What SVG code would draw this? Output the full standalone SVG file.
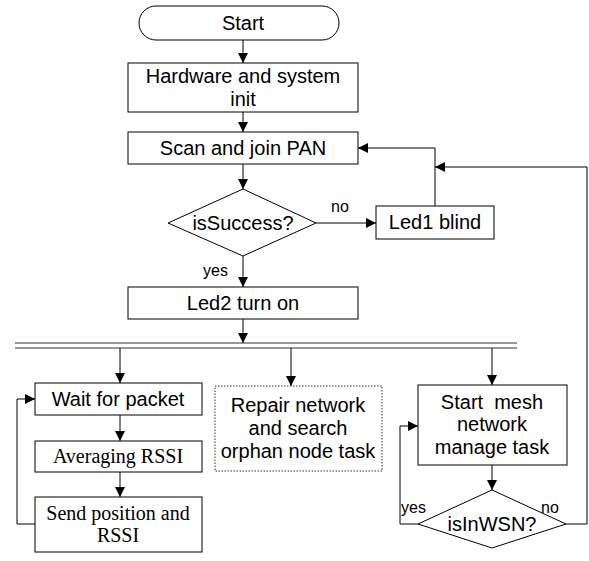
<svg xmlns="http://www.w3.org/2000/svg" width="589" height="561" viewBox="0 0 589 561">
  <style>
    .box { fill: #fff; stroke: #000; stroke-width: 1; }
    .dot { fill: #fff; stroke: #333; stroke-width: 1; stroke-dasharray: 1.5 1.5; }
    .ln { fill: none; stroke: #000; stroke-width: 1; }
    .t { font-family: "Liberation Sans", Arial, sans-serif; font-size: 20px; text-anchor: middle; fill: #000; }
    .s { font-family: "Liberation Serif", "Times New Roman", serif; font-size: 20px; text-anchor: middle; fill: #000; }
    .lbl { font-family: "Liberation Sans", Arial, sans-serif; font-size: 16px; fill: #000; }
  </style>
  <defs>
    <marker id="arr" viewBox="0 0 10 10" refX="10" refY="5" markerWidth="10" markerHeight="10" markerUnits="userSpaceOnUse" orient="auto">
      <path d="M0,0 L10,5 L0,10 Z" fill="#000"/>
    </marker>
  </defs>

  <g id="connectors">
    <line class="ln" x1="243" y1="40" x2="243" y2="63" marker-end="url(#arr)"/>
    <line class="ln" x1="243" y1="112" x2="243" y2="132" marker-end="url(#arr)"/>
    <line class="ln" x1="243" y1="164" x2="243" y2="189" marker-end="url(#arr)"/>
    <line class="ln" x1="316" y1="223" x2="376" y2="223" marker-end="url(#arr)"/>
    <polyline class="ln" points="435,206 435,148 358,148" marker-end="url(#arr)"/>
    <polyline class="ln" points="566,524 587,524 587,167 435,167" marker-end="url(#arr)"/>
    <line class="ln" x1="243" y1="256" x2="243" y2="287" marker-end="url(#arr)"/>
    <line class="ln" x1="243" y1="319" x2="243" y2="343" marker-end="url(#arr)"/>
    <!-- fork bar -->
    <line x1="15" y1="343" x2="517" y2="343" stroke="#333" stroke-width="1.2"/>
    <line x1="15" y1="348" x2="517" y2="348" stroke="#333" stroke-width="1.2"/>
    <line class="ln" x1="120" y1="348" x2="120" y2="383" marker-end="url(#arr)"/>
    <line class="ln" x1="291" y1="348" x2="291" y2="386" marker-end="url(#arr)"/>
    <line class="ln" x1="492" y1="348" x2="492" y2="385" marker-end="url(#arr)"/>
    <line class="ln" x1="120" y1="415" x2="120" y2="441" marker-end="url(#arr)"/>
    <line class="ln" x1="120" y1="472" x2="120" y2="497" marker-end="url(#arr)"/>
    <polyline class="ln" points="35,524 17,524 17,399 35,399" marker-end="url(#arr)"/>
    <line class="ln" x1="492" y1="465" x2="492" y2="490" marker-end="url(#arr)"/>
    <polyline class="ln" points="418,524 400,524 400,426 418,426" marker-end="url(#arr)"/>
    <text class="lbl" x="331" y="212">no</text>
    <text class="lbl" x="203" y="276">yes</text>
    <text class="lbl" x="401" y="513">yes</text>
    <text class="lbl" x="541" y="513">no</text>
  </g>

  <g id="start">
    <rect class="box" x="139" y="6" width="200" height="34" rx="17" ry="17"/>
    <text class="t" x="243" y="30">Start</text>
  </g>
  <g id="init">
    <rect class="box" x="128" y="63" width="230" height="49"/>
    <text class="t" x="243" y="83">Hardware and system</text>
    <text class="t" x="243" y="106">init</text>
  </g>
  <g id="scan">
    <rect class="box" x="128" y="132" width="230" height="32"/>
    <text class="t" x="243" y="155">Scan and join PAN</text>
  </g>
  <g id="isSuccess">
    <polygon class="box" points="243,189 316,223 243,256 168,223"/>
    <text class="t" x="243" y="230">isSuccess?</text>
  </g>
  <g id="led1">
    <rect class="box" x="376" y="206" width="118" height="33"/>
    <text class="t" x="435" y="229">Led1 blind</text>
  </g>
  <g id="led2">
    <rect class="box" x="128" y="287" width="230" height="32"/>
    <text class="t" x="243" y="310">Led2 turn on</text>
  </g>
  <g id="wait">
    <rect class="box" x="35" y="383" width="167" height="32"/>
    <text class="t" x="118" y="406">Wait for packet</text>
  </g>
  <g id="averaging">
    <rect class="box" x="35" y="441" width="167" height="31"/>
    <text class="s" x="118" y="463">Averaging RSSI</text>
  </g>
  <g id="send">
    <rect class="box" x="35" y="497" width="167" height="55"/>
    <text class="s" x="118" y="520">Send position and</text>
    <text class="s" x="118" y="542">RSSI</text>
  </g>
  <g id="repair">
    <rect class="dot" x="215" y="386" width="167" height="85"/>
    <text class="t" x="298" y="412">Repair network</text>
    <text class="t" x="298" y="435">and search</text>
    <text class="t" x="298" y="458">orphan node task</text>
  </g>
  <g id="mesh">
    <rect class="box" x="418" y="385" width="149" height="80"/>
    <text class="t" x="492" y="409" xml:space="preserve">Start  mesh</text>
    <text class="t" x="492" y="431">network</text>
    <text class="t" x="492" y="454">manage task</text>
  </g>
  <g id="isInWSN">
    <polygon class="box" points="492,490 566,524 492,548 418,524"/>
    <text class="t" x="492" y="531">isInWSN?</text>
  </g>
</svg>
